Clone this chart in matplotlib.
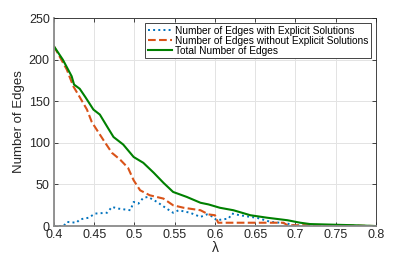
import matplotlib.pyplot as plt

plt.rcParams['font.family'] = ['Liberation Sans', 'DejaVu Sans']

# total number of edges
lam_total = [0.400, 0.411, 0.422, 0.425, 0.432, 0.439, 0.449, 0.457, 0.467, 0.474,
             0.486, 0.499, 0.511, 0.524, 0.536, 0.548, 0.565, 0.582, 0.592, 0.606,
             0.623, 0.644, 0.665, 0.690, 0.706, 0.718, 0.772, 0.800]
total = [216, 200, 180, 170, 165, 155, 140, 134, 118, 107,
         98, 83, 76, 64, 52, 41, 35, 28, 26, 22,
         19, 13, 10, 7, 4, 2.4, 1, 0]

# edges without explicit solutions
lam_without = [0.400, 0.416, 0.424, 0.432, 0.441, 0.447, 0.453, 0.461, 0.472, 0.482,
               0.492, 0.499, 0.507, 0.519, 0.536, 0.548, 0.561, 0.582, 0.592, 0.600,
               0.604, 0.685, 0.690, 0.750, 0.800]
without = [216, 188, 168, 155, 140, 125, 116, 104, 88, 80,
           70, 55, 43, 37, 33, 25, 22, 19, 14, 13,
           4, 4, 1, 1, 0]

# edges with explicit solutions
lam_with = [0.400, 0.412, 0.416, 0.428, 0.432, 0.443, 0.451, 0.466, 0.472, 0.480,
            0.495, 0.499, 0.505, 0.511, 0.517, 0.528, 0.540, 0.548, 0.555, 0.569,
            0.582, 0.590, 0.598, 0.602, 0.617, 0.621, 0.631, 0.644, 0.652, 0.669,
            0.681, 0.690, 0.700, 0.800]
with_ = [0, 0, 5, 4, 8, 10, 15, 16, 23, 21,
         19, 29, 27, 34, 35, 29, 21, 16, 19, 16,
         11, 14, 11, 7, 9, 15, 13, 11, 10, 5,
         4, 3, 0.5, 0]

fig = plt.figure(figsize=(4.15, 2.54), dpi=100)
ax = fig.add_axes([0.130, 0.110, 0.776, 0.819])

ax.plot(lam_with, with_, ':', color='#0072BD', lw=1.4,
        label='Number of Edges with Explicit Solutions')
ax.plot(lam_without, without, '--', color='#D95319', lw=1.5,
        label='Number of Edges without Explicit Solutions')
ax.plot(lam_total, total, '-', color='#008000', lw=1.5,
        label='Total Number of Edges')

ax.set_xlim(0.4, 0.8)
ax.set_ylim(0, 250)
ax.set_xticks([0.4, 0.45, 0.5, 0.55, 0.6, 0.65, 0.7, 0.75, 0.8])
ax.set_xticklabels(['0.4', '0.45', '0.5', '0.55', '0.6', '0.65', '0.7', '0.75', '0.8'])
ax.set_yticks([0, 50, 100, 150, 200, 250])
ax.grid(True, color='#e3e3e3', lw=0.7)
ax.set_axisbelow(True)
ax.tick_params(direction='in', length=3, width=0.6, top=True, right=True,
               labelsize=9, colors='#262626', pad=2)
ax.tick_params(axis='y', pad=3)
for s in ['left', 'bottom']:
    ax.spines[s].set_color('#8a8a8a')
    ax.spines[s].set_linewidth(1.3)
for s in ['top', 'right']:
    ax.spines[s].set_color('#262626')
    ax.spines[s].set_linewidth(0.6)

ax.set_xlabel('λ', fontsize=10, color='#262626', labelpad=0)
ax.set_ylabel('Number of Edges', fontsize=9.5, color='#262626', labelpad=3)

leg = ax.legend(loc='upper right', fontsize=7.3, handlelength=2.4, handletextpad=0.3,
                borderpad=0.25, labelspacing=0.0, borderaxespad=0.5, fancybox=False,
                framealpha=1, edgecolor='#262626')
leg.get_frame().set_linewidth(0.6)

plt.savefig('out.png', dpi=100)
